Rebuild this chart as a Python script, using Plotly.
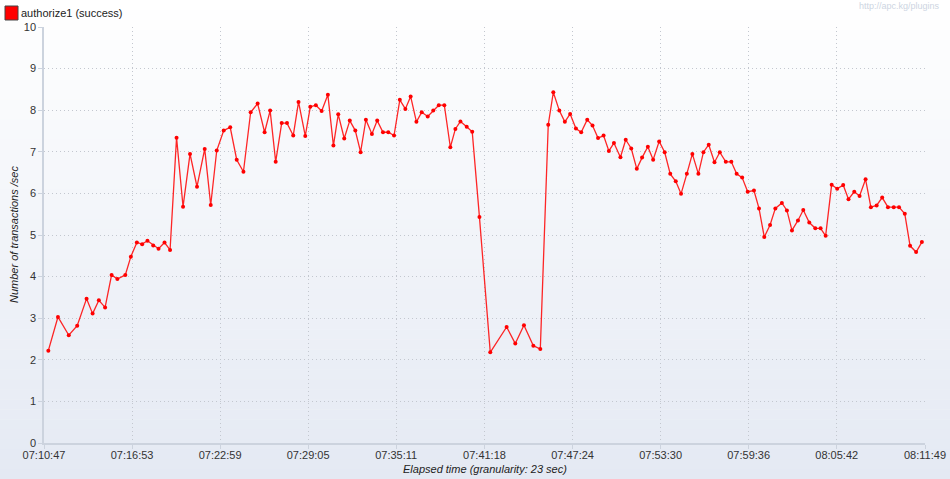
import plotly.graph_objects as go

# ---- data (elapsed seconds since 07:10:47, transactions/sec) ----
elapsed_s = [18, 58, 103, 138, 177, 202, 228, 254, 281, 305, 338, 361, 386, 408, 430, 454, 476, 501, 524, 551,
             578, 607, 636, 668, 693, 718, 747, 774, 801, 829, 859, 888, 917, 940, 963, 988, 1010, 1036, 1058, 1086,
             1107, 1130, 1154, 1180, 1203, 1223, 1248, 1271, 1294, 1316, 1338, 1363, 1385, 1409, 1431, 1455, 1479, 1502, 1524, 1548,
             1570, 1595, 1618, 1641, 1664, 1689, 1710, 1731, 1757, 1780, 1810, 1855, 1923, 1959, 1995, 2034, 2063, 2096, 2117, 2142,
             2165, 2187, 2211, 2233, 2258, 2280, 2303, 2326, 2348, 2369, 2396, 2418, 2441, 2464, 2486, 2510, 2532, 2557, 2580, 2603,
             2626, 2648, 2672, 2695, 2720, 2741, 2763, 2787, 2809, 2834, 2857, 2879, 2902, 2925, 2951, 2972, 2994, 3018, 3040, 3067,
             3088, 3109, 3134, 3156, 3181, 3206, 3228, 3249, 3274, 3297, 3322, 3344, 3368, 3390, 3415, 3437, 3461, 3484, 3508, 3532,
             3554, 3578, 3600, 3625, 3649]
tps = [2.22, 3.03, 2.59, 2.82, 3.47, 3.11, 3.43, 3.26, 4.04, 3.94, 4.04, 4.48, 4.82, 4.78, 4.86, 4.75, 4.67, 4.82, 4.64, 7.34,
       5.68, 6.95, 6.16, 7.07, 5.72, 7.03, 7.51, 7.59, 6.81, 6.52, 7.95, 8.16, 7.47, 7.99, 6.76, 7.69, 7.69, 7.39, 8.20, 7.38,
       8.08, 8.12, 7.98, 8.37, 7.15, 7.90, 7.32, 7.75, 7.51, 6.99, 7.77, 7.43, 7.75, 7.47, 7.47, 7.39, 8.25, 8.03, 8.33, 7.72,
       7.95, 7.85, 7.99, 8.12, 8.12, 7.11, 7.55, 7.73, 7.60, 7.48, 5.43, 2.18, 2.79, 2.39, 2.83, 2.34, 2.26, 7.65, 8.43, 7.99,
       7.72, 7.91, 7.56, 7.47, 7.77, 7.63, 7.33, 7.39, 7.02, 7.21, 6.87, 7.29, 7.08, 6.59, 6.86, 7.12, 6.81, 7.25, 6.99, 6.47,
       6.29, 5.99, 6.47, 6.95, 6.47, 6.99, 7.17, 6.75, 6.99, 6.76, 6.76, 6.47, 6.38, 6.04, 6.07, 5.64, 4.95, 5.24, 5.64, 5.77,
       5.59, 5.11, 5.35, 5.60, 5.30, 5.16, 5.16, 4.98, 6.21, 6.11, 6.20, 5.86, 6.04, 5.94, 6.34, 5.67, 5.71, 5.90, 5.67, 5.67,
       5.67, 5.51, 4.74, 4.59, 4.83]
x_tick_labels = ["07:10:47", "07:16:53", "07:22:59", "07:29:05", "07:35:11", "07:41:18",
                 "07:47:24", "07:53:30", "07:59:36", "08:05:42", "08:11:49"]
y_ticks = list(range(0, 11))
series_name = "authorize1 (success)"


def to_sec(s):
    h, m, sec = (int(p) for p in s.split(":"))
    return h * 3600 + m * 60 + sec


t0 = to_sec(x_tick_labels[0])
x_tick_vals = [to_sec(s) - t0 for s in x_tick_labels]

W, H = 950, 479
L, R, T, B = 44, 25, 27, 36
plot_h = H - T - B
pw = W - L - R

FONT = "Liberation Sans, Arial, sans-serif"

fig = go.Figure()
fig.add_trace(go.Scatter(
    x=elapsed_s, y=tps, mode="lines+markers", name=series_name,
    line=dict(color="rgba(255,0,0,0.85)", width=1.3),
    marker=dict(color="#ff0000", size=4),
    showlegend=False, hoverinfo="x+y", cliponaxis=False,
))

# background gradient (white at top -> light blue-grey at bottom)
shapes = []
n_bands = 48
top_c = (255, 255, 255)
bot_c = (228, 233, 243)
for i in range(n_bands):
    p0 = H * i / n_bands
    p1 = H * (i + 1) / n_bands + 0.5
    f = (i + 0.5) / n_bands
    c = tuple(round(top_c[k] + (bot_c[k] - top_c[k]) * f) for k in range(3))
    shapes.append(dict(
        type="rect", xref="paper", yref="paper", layer="below",
        x0=-L / pw - 0.01, x1=1 + R / pw + 0.01,
        y0=(H - B - p1) / plot_h, y1=(H - B - p0) / plot_h,
        fillcolor="rgb(%d,%d,%d)" % c, line=dict(width=0),
    ))

# legend swatch
shapes.append(dict(
    type="rect", xref="paper", yref="paper", layer="above",
    x0=(5 - L) / pw, x1=(18 - L) / pw,
    y0=(H - B - 20) / plot_h, y1=(H - B - 6) / plot_h,
    fillcolor="#ff0000", line=dict(color="#444444", width=1),
))

annotations = [
    dict(text=series_name, xref="paper", yref="paper",
         x=(19 - L) / pw, y=(H - B - 13) / plot_h, xanchor="left", yanchor="middle",
         showarrow=False, font=dict(family=FONT, size=11, color="#222222")),
    dict(text="http://apc.kg/plugins", xref="paper", yref="paper",
         x=(942 - L) / pw, y=(H - B - 6) / plot_h, xanchor="right", yanchor="middle",
         showarrow=False, font=dict(family=FONT, size=9, color="#cdd5e2")),
    dict(text="<i>Number of transactions /sec</i>", xref="paper", yref="paper",
         x=(14 - L) / pw, y=0.5, xanchor="center", yanchor="middle", textangle=-90,
         showarrow=False, font=dict(family=FONT, size=11, color="#222222")),
    dict(text="<i>Elapsed time (granularity: 23 sec)</i>", xref="paper", yref="paper",
         x=0.5, y=-(469 - (H - B)) / plot_h, xanchor="center", yanchor="middle",
         showarrow=False, font=dict(family=FONT, size=11, color="#222222")),
]

axis_common = dict(
    showgrid=True, gridcolor="#c3c7cf", griddash="1px,3px", gridwidth=1,
    showline=True, linecolor="#ccd3de", linewidth=1.5,
    ticks="outside", ticklen=4, tickcolor="#ccd3de",
    tickfont=dict(family=FONT, size=11, color="#333333"),
    zeroline=False, fixedrange=True, automargin=False,
)

fig.update_layout(
    width=W, height=H,
    margin=dict(l=L, r=R, t=T, b=B, pad=0),
    paper_bgcolor="#ffffff", plot_bgcolor="rgba(0,0,0,0)",
    shapes=shapes, annotations=annotations,
    showlegend=False,
    xaxis=dict(range=[x_tick_vals[0], x_tick_vals[-1]], tickmode="array",
               tickvals=x_tick_vals, ticktext=x_tick_labels,
               ticklabelstandoff=-3, **axis_common),
    yaxis=dict(range=[0, 10], tickmode="array", tickvals=y_ticks,
               ticktext=[str(v) for v in y_ticks], **axis_common),
)

fig.write_html(
    "out.html",
    config={"displayModeBar": False},
    post_script="document.body.style.margin='0';document.body.style.padding='0';"
                "document.body.style.overflow='hidden';",
)
